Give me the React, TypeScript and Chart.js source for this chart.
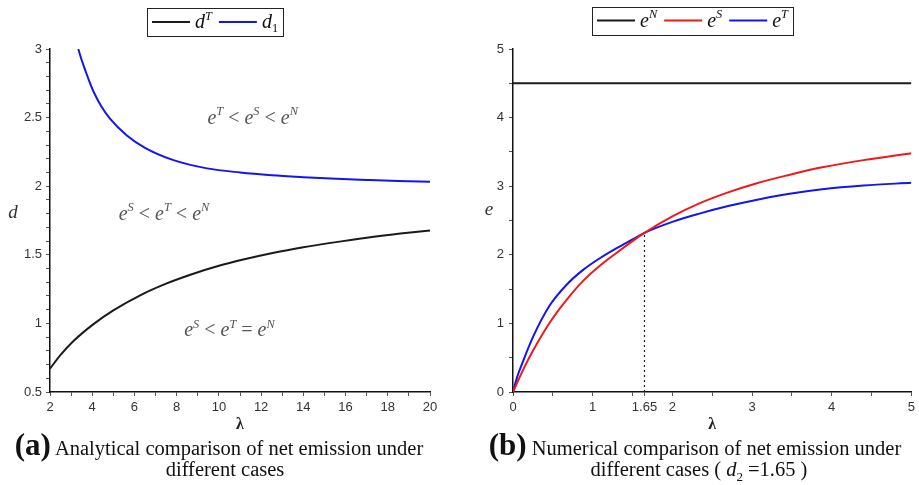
import React, { useEffect, useRef } from "react";
import { Chart, registerables } from "chart.js";
Chart.register(...registerables);

// ---------- (a) data ----------
const lambdaDT = [2, 2.5, 3.1, 4.06, 5, 6.27, 7.5, 8.65, 10, 11, 12.6, 14, 15.3, 17, 18.6, 20];
const dT = [0.67, 0.77, 0.87, 0.995, 1.095, 1.205, 1.29, 1.355, 1.42, 1.46, 1.515, 1.555, 1.587, 1.625, 1.655, 1.678];
const lambdaD1 = [3.34, 3.5, 3.66, 3.85, 4.06, 4.4, 4.85, 5.64, 6.5, 7.85, 9.44, 11, 12.5, 14, 15.3, 17, 18.5, 20];
const d1 = [3.0, 2.92, 2.85, 2.77, 2.69, 2.59, 2.49, 2.37, 2.28, 2.19, 2.13, 2.1, 2.08, 2.066, 2.056, 2.046, 2.038, 2.032];
const xLabelsA = [2, 4, 6, 8, 10, 12, 14, 16, 18, 20];
const yLabelsA = [0.5, 1, 1.5, 2, 2.5, 3];

// ---------- (b) data ----------
const lambdaB = [0, 0.05, 0.13, 0.25, 0.46, 0.67, 0.88, 1.09, 1.29, 1.5, 1.65, 2.0, 2.34, 2.7, 3.05, 3.45, 3.88, 4.4, 5.0];
const eS = [0, 0.13, 0.33, 0.6, 1.01, 1.34, 1.62, 1.84, 2.02, 2.2, 2.32, 2.56, 2.75, 2.91, 3.04, 3.16, 3.275, 3.38, 3.48];
const eT = [0, 0.21, 0.46, 0.8, 1.26, 1.56, 1.78, 1.95, 2.09, 2.225, 2.32, 2.48, 2.6, 2.71, 2.8, 2.885, 2.955, 3.01, 3.05];
const lambdaEN = [0, 5];
const eN = [4.5, 4.5];
const lambdaCross = [1.65, 1.65];
const eCross = [0, 2.32];
const xTicksB = [0, 0.5, 1, 1.5, 1.65, 2, 2.5, 3, 3.5, 4, 4.5, 5];
const xLabelsB = [0, 1, 1.65, 2, 3, 4, 5];
const yLabelsB = [0, 1, 2, 3, 4, 5];

type Seg = { t: string; sup?: boolean; sub?: boolean; up?: boolean };
const SERIF = '"Liberation Serif", "DejaVu Serif", serif';

function segFont(s: Seg, size: number) {
  const sz = s.sup || s.sub ? size * 0.62 : size;
  return `${s.up ? "" : "italic "}${sz}px ${SERIF}`;
}
function richWidth(ctx: CanvasRenderingContext2D, segs: Seg[], size: number) {
  let w = 0;
  for (const s of segs) {
    ctx.font = segFont(s, size);
    w += ctx.measureText(s.t).width;
  }
  return w;
}
function drawRich(ctx: CanvasRenderingContext2D, segs: Seg[], x: number, y: number, size: number, color: string) {
  let cx = x;
  ctx.fillStyle = color;
  ctx.textBaseline = "alphabetic";
  ctx.textAlign = "left";
  for (const s of segs) {
    ctx.font = segFont(s, size);
    const dy = s.sup ? -size * 0.42 : s.sub ? size * 0.22 : 0;
    ctx.fillText(s.t, cx, y + dy);
    cx += ctx.measureText(s.t).width;
  }
}

const e = (p: string): Seg[] => [{ t: "e" }, { t: p, sup: true }];
const lt: Seg = { t: " < ", up: true };
const eq: Seg = { t: " = ", up: true };

type Overlay = {
  legend: { cx: number; cy: number; items: { color: string; segs: Seg[] }[] };
  notes: { x: number; y: number; segs: Seg[] }[];
  yTitle: { x: number; y: number; t: string };
};

function overlayPlugin(cfg: Overlay) {
  return {
    id: "overlay",
    afterDraw(chart: any) {
      const ctx: CanvasRenderingContext2D = chart.ctx;
      ctx.save();
      // legend
      const size = 20;
      const padL = 5, line = 38, g1 = 5, g2 = 7, padR = 5, h = 28;
      const widths = cfg.legend.items.map((it) => richWidth(ctx, it.segs, size));
      let total = padL + padR;
      widths.forEach((w, i) => (total += line + g1 + w + (i < widths.length - 1 ? g2 : 0)));
      const left = Math.round(cfg.legend.cx - total / 2);
      const top = Math.round(cfg.legend.cy - h / 2);
      ctx.strokeStyle = "#222";
      ctx.lineWidth = 1;
      ctx.strokeRect(left + 0.5, top + 0.5, Math.round(total), h);
      let x = left + padL;
      cfg.legend.items.forEach((it, i) => {
        ctx.strokeStyle = it.color;
        ctx.lineWidth = 2;
        ctx.beginPath();
        ctx.moveTo(x, cfg.legend.cy);
        ctx.lineTo(x + line, cfg.legend.cy);
        ctx.stroke();
        x += line + g1;
        drawRich(ctx, it.segs, x, cfg.legend.cy + 6, size, "#111");
        x += widths[i] + g2;
      });
      // notes
      const xs = chart.scales.x;
      const ys = chart.scales.y;
      cfg.notes.forEach((n) => {
        const w = richWidth(ctx, n.segs, 20);
        const px = xs.getPixelForValue(n.x) - w / 2;
        const py = ys.getPixelForValue(n.y) + 6;
        drawRich(ctx, n.segs, px, py, 20, "#555");
      });
      // y title
      ctx.font = `italic 19px ${SERIF}`;
      ctx.fillStyle = "#333";
      ctx.textAlign = "center";
      ctx.textBaseline = "middle";
      ctx.fillText(cfg.yTitle.t, cfg.yTitle.x, cfg.yTitle.y);
      ctx.restore();
    },
  };
}

const near = (v: number, arr: number[]) => arr.some((a) => Math.abs(a - v) < 1e-6);

function axisCommon() {
  return {
    grid: {
      drawOnChartArea: false,
      drawTicks: true,
      tickLength: 4,
      tickColor: "#555",
    },
    border: { display: true, color: "#111", width: 1.5 },
  };
}

function pts(xs: number[], ys: number[]) {
  return xs.map((x, i) => ({ x, y: ys[i] }));
}

const tickFont = { family: '"Liberation Sans", sans-serif', size: 13 };
const lambdaTitle = { display: true, text: "λ", color: "#222", font: { family: SERIF, size: 16, weight: "bold" }, padding: { top: 0, bottom: 0 } };

function ChartA() {
  const ref = useRef<HTMLCanvasElement>(null);
  useEffect(() => {
    const chart = new Chart(ref.current!, {
      type: "line",
      data: {
        datasets: [
          { label: "dT", data: pts(lambdaDT, dT), borderColor: "#1a1a1a", borderWidth: 2, pointRadius: 0, cubicInterpolationMode: "monotone" },
          { label: "d1", data: pts(lambdaD1, d1), borderColor: "#1414f0", borderWidth: 2, pointRadius: 0, cubicInterpolationMode: "monotone" },
        ],
      } as any,
      options: {
        responsive: false,
        animation: false,
        events: [],
        layout: { padding: { top: 49, right: 30, left: 0, bottom: 0 } },
        plugins: { legend: { display: false }, tooltip: { enabled: false } },
        scales: {
          x: {
            type: "linear",
            min: 2,
            max: 20,
            ...axisCommon(),
            ticks: {
              stepSize: 1,
              autoSkip: false,
              maxRotation: 0,
              padding: 4,
              color: "#333",
              font: tickFont,
              callback: (v: any) => (near(Number(v), xLabelsA) ? String(v) : ""),
            },
            title: lambdaTitle,
            afterFit: (s: any) => { s.height = 42; },
          },
          y: {
            type: "linear",
            min: 0.5,
            max: 3,
            ...axisCommon(),
            ticks: {
              stepSize: 0.1,
              autoSkip: false,
              padding: 4,
              color: "#333",
              font: tickFont,
              callback: (v: any) => (near(Number(v), yLabelsA) ? String(Math.round(Number(v) * 10) / 10) : ""),
            },
            afterFit: (s: any) => { s.width = 50; },
          },
        },
      } as any,
      plugins: [
        overlayPlugin({
          legend: {
            cx: 215.5,
            cy: 22,
            items: [
              { color: "#1a1a1a", segs: [{ t: "d" }, { t: "T", sup: true }] },
              { color: "#1414f0", segs: [{ t: "d" }, { t: "1", sub: true, up: true }] },
            ],
          },
          notes: [
            { x: 11.6, y: 2.5, segs: [...e("T"), lt, ...e("S"), lt, ...e("N")] },
            { x: 7.4, y: 1.8, segs: [...e("S"), lt, ...e("T"), lt, ...e("N")] },
            { x: 10.5, y: 0.95, segs: [...e("S"), lt, ...e("T"), eq, ...e("N")] },
          ],
          yTitle: { x: 13, y: 213, t: "d" },
        }),
      ],
    });
    return () => chart.destroy();
  }, []);
  return <canvas ref={ref} width={460} height={434} style={{ position: "absolute", left: 0, top: 0 }} />;
}

function ChartB() {
  const ref = useRef<HTMLCanvasElement>(null);
  useEffect(() => {
    const chart = new Chart(ref.current!, {
      type: "line",
      data: {
        datasets: [
          { label: "eN", data: pts(lambdaEN, eN), borderColor: "#1a1a1a", borderWidth: 2, pointRadius: 0 },
          { label: "eS", data: pts(lambdaB, eS), borderColor: "#f01818", borderWidth: 2, pointRadius: 0, cubicInterpolationMode: "monotone" },
          { label: "eT", data: pts(lambdaB, eT), borderColor: "#1414f0", borderWidth: 2, pointRadius: 0, cubicInterpolationMode: "monotone" },
          { label: "d2", data: pts(lambdaCross, eCross), borderColor: "#222", borderWidth: 1.2, borderDash: [2, 3], pointRadius: 0 },
        ],
      } as any,
      options: {
        responsive: false,
        animation: false,
        events: [],
        layout: { padding: { top: 49, right: 6, left: 0, bottom: 0 } },
        plugins: { legend: { display: false }, tooltip: { enabled: false } },
        scales: {
          x: {
            type: "linear",
            min: 0,
            max: 5,
            ...axisCommon(),
            afterBuildTicks: (s: any) => { s.ticks = xTicksB.map((v) => ({ value: v })); },
            ticks: {
              autoSkip: false,
              maxRotation: 0,
              padding: 4,
              color: "#333",
              font: tickFont,
              callback: (v: any) => (near(Number(v), xLabelsB) ? String(v) : ""),
            },
            title: lambdaTitle,
            afterFit: (s: any) => { s.height = 42; },
          },
          y: {
            type: "linear",
            min: 0,
            max: 5,
            ...axisCommon(),
            ticks: {
              stepSize: 0.5,
              autoSkip: false,
              padding: 5,
              color: "#333",
              font: tickFont,
              callback: (v: any) => (near(Number(v), yLabelsB) ? String(v) : ""),
            },
            afterFit: (s: any) => { s.width = 53; },
          },
        },
      } as any,
      plugins: [
        overlayPlugin({
          legend: {
            cx: 232,
            cy: 20.5,
            items: [
              { color: "#1a1a1a", segs: e("N") },
              { color: "#f01818", segs: e("S") },
              { color: "#1414f0", segs: e("T") },
            ],
          },
          notes: [],
          yTitle: { x: 29, y: 210, t: "e" },
        }),
      ],
    });
    return () => chart.destroy();
  }, []);
  return <canvas ref={ref} width={459} height={434} style={{ position: "absolute", left: 460, top: 0 }} />;
}

const capStyle: React.CSSProperties = {
  position: "absolute",
  textAlign: "center",
  fontFamily: SERIF,
  fontSize: 20.5,
  color: "#111",
  whiteSpace: "nowrap",
};
const big: React.CSSProperties = { fontWeight: "bold", fontSize: 31 };

export default function App() {
  return (
    <div style={{ position: "fixed", left: 0, top: 0, width: 919, height: 485, background: "#fff", overflow: "hidden" }}>
      <ChartA />
      <ChartB />
      <div style={{ ...capStyle, left: 0, width: 438, top: 429, lineHeight: "32px" }}>
        <span style={big}>(a)</span> Analytical comparison of net emission under
      </div>
      <div style={{ ...capStyle, left: 0, width: 450, top: 457, lineHeight: "24px" }}>different cases</div>
      <div style={{ ...capStyle, left: 475, width: 440, top: 429, lineHeight: "32px" }}>
        <span style={big}>(b)</span> Numerical comparison of net emission under
      </div>
      <div style={{ ...capStyle, left: 479, width: 440, top: 457, lineHeight: "24px" }}>
        different cases ( <i>d</i>
        <span style={{ fontSize: 13, position: "relative", top: 5 }}>2</span> =1.65 )
      </div>
    </div>
  );
}
